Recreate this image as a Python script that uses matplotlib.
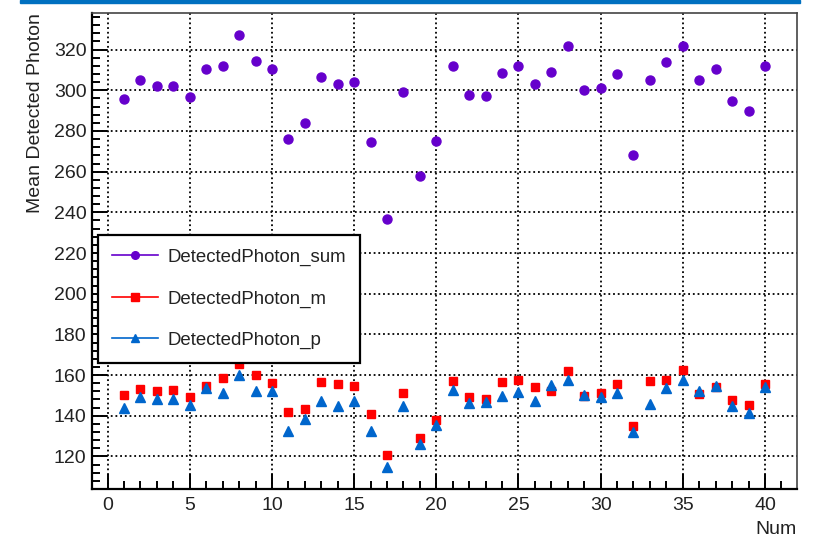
import numpy as np
import matplotlib.pyplot as plt
from matplotlib.lines import Line2D
from matplotlib.patches import Rectangle
from matplotlib.ticker import MultipleLocator

plt.rcParams['font.family'] = ['Liberation Sans', 'DejaVu Sans']

num = np.arange(1, 41)
photon_sum = [295.7, 305.1, 302.1, 302.1, 296.6, 310.3, 312.1, 327.2, 314.6, 310.5,
              276.1, 283.8, 306.6, 302.9, 304.1, 274.8, 236.5, 299.2, 257.7, 275.1,
              311.8, 297.9, 297.4, 308.4, 312.0, 303.3, 309.0, 321.8, 300.3, 301.3,
              308.2, 268.4, 305.2, 314.1, 321.8, 304.9, 310.5, 294.8, 289.8, 312.0]
photon_m = [150.1, 153.4, 152.4, 152.6, 149.3, 154.7, 158.5, 165.4, 160.0, 156.3,
            141.9, 143.4, 156.8, 155.7, 154.7, 140.8, 120.5, 151.4, 129.1, 137.8,
            157.2, 149.3, 148.2, 156.5, 157.5, 154.0, 152.1, 161.9, 149.5, 151.3,
            155.7, 135.2, 157.0, 157.5, 162.6, 150.5, 153.9, 147.8, 145.5, 155.5]
photon_p = [143.9, 149.3, 148.2, 148.2, 145.2, 153.7, 151.4, 159.8, 152.4, 152.2,
            132.3, 138.2, 147.5, 145.0, 147.2, 132.3, 114.6, 145.0, 126.2, 135.4,
            152.6, 146.5, 147.0, 149.6, 151.6, 147.2, 155.0, 157.8, 150.0, 149.1,
            151.1, 131.8, 145.9, 153.6, 157.8, 152.2, 154.4, 144.7, 141.4, 154.0]

c_sum = '#6600cc'
c_m = '#ff0000'
c_p = '#0066cc'

fig = plt.figure(figsize=(8.18, 5.40), dpi=100)
fig.patches.append(Rectangle((20/818, 1-3/540), 780/818, 3/540, transform=fig.transFigure,
                             color='#0070c0', zorder=0))
ax = fig.add_axes([92/818, 51/540, 705/818, 476/540])

ax.plot(num, photon_sum, 'o', color=c_sum, markersize=6.5, zorder=3)
ax.plot(num, photon_m, 's', color=c_m, markersize=6, zorder=3)
ax.plot(num, photon_p, '^', color=c_p, markersize=6.5, zorder=4)

ax.set_xlim(-0.95, 41.95)
ax.set_ylim(104, 338)
ax.xaxis.set_major_locator(MultipleLocator(5))
ax.xaxis.set_minor_locator(MultipleLocator(1))
ax.yaxis.set_major_locator(MultipleLocator(20))
ax.yaxis.set_minor_locator(MultipleLocator(4))
ax.set_yticks(np.arange(120, 340, 20))

ax.tick_params(which='major', direction='in', length=11, width=1.4, labelsize=14,
               labelcolor='#222222', top=False, right=False)
ax.tick_params(which='minor', direction='in', length=6, width=1.4, top=False, right=False)
ax.tick_params(axis='y', pad=4)
ax.tick_params(axis='x', pad=6)

for s in ['left', 'bottom']:
    ax.spines[s].set_linewidth(1.6)
    ax.spines[s].set_color('black')
for s in ['top', 'right']:
    ax.spines[s].set_linewidth(1.2)
    ax.spines[s].set_color('#444444')

ax.grid(True, which='major', color='black', linestyle=(0, (1, 1.6)), linewidth=1.3)
ax.set_axisbelow(True)

ax.set_ylabel('Mean Detected Photon', fontsize=14, loc='top', color='#222222')
ax.yaxis.set_label_coords(-0.068, 1.0)
ax.set_xlabel('Num', fontsize=14, loc='right', color='#222222')
ax.xaxis.set_label_coords(1.0, -0.067)

# legend handles show line + marker, like the ROOT "lp" option
handles = [Line2D([], [], color=c_sum, marker='o', markersize=5.5, lw=1.2),
           Line2D([], [], color=c_m, marker='s', markersize=5.5, lw=1.2),
           Line2D([], [], color=c_p, marker='^', markersize=5.5, lw=1.2)]
labels = ['DetectedPhoton_sum', 'DetectedPhoton_m', 'DetectedPhoton_p']
leg = ax.legend(handles, labels, loc='upper left', bbox_to_anchor=(98/818, 1-235/540),
                bbox_transform=fig.transFigure, fontsize=13.4, frameon=True, fancybox=False,
                borderpad=0.75, labelspacing=1.3, handlelength=2.5, handletextpad=0.5,
                borderaxespad=0, labelcolor='#222222')
leg.get_frame().set_edgecolor('black')
leg.get_frame().set_linewidth(1.6)
leg.get_frame().set_alpha(1)
leg.set_zorder(5)

fig.savefig('out.png', dpi=100)
